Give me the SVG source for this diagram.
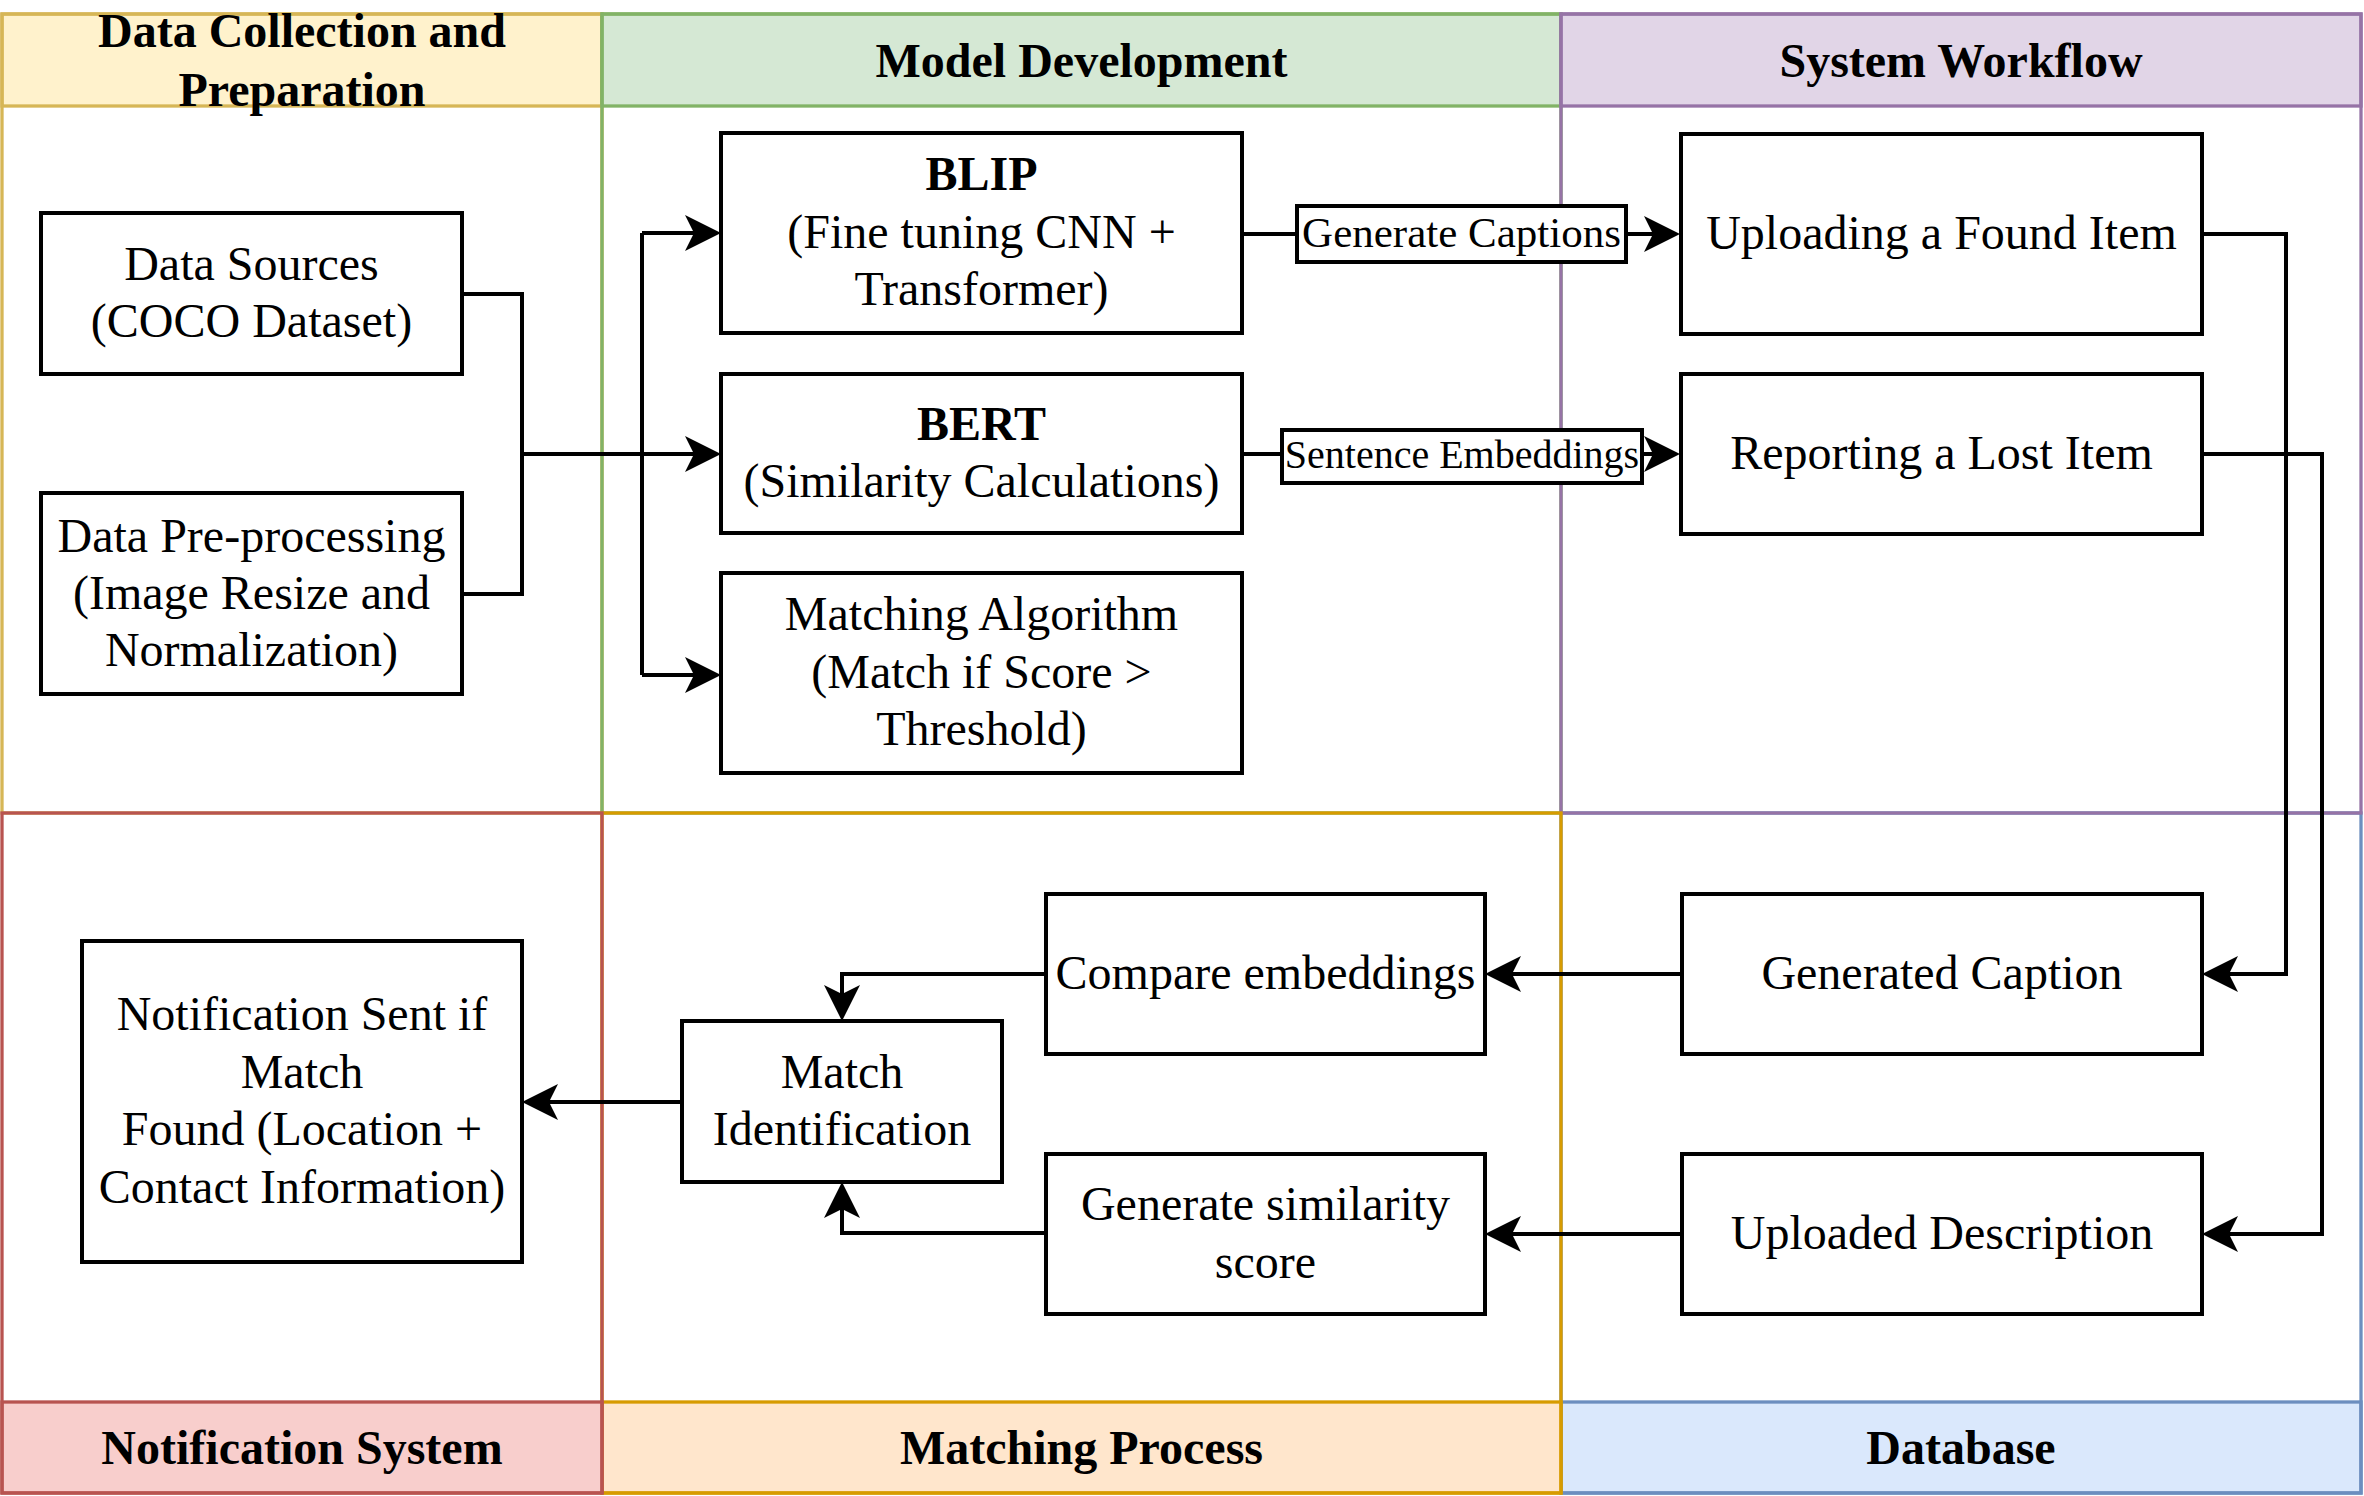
<svg xmlns="http://www.w3.org/2000/svg" width="2364" height="1496" viewBox="0 0 2364 1496">
<defs>
<style>
text{font-family:"Liberation Serif","Times New Roman",serif;fill:#000;text-anchor:middle}
.t{font-size:48px}
.h{font-size:48px;font-weight:bold}
.box{fill:#fff;stroke:#000;stroke-width:4}
.lane{fill:none;stroke-width:3.3}
.edge{fill:none;stroke:#000;stroke-width:4}
.arr{marker-end:url(#ah)}
.lbl{fill:#fff;stroke:#000;stroke-width:4}
</style>
<marker id="ah" markerUnits="userSpaceOnUse" markerWidth="40" markerHeight="40" refX="26" refY="18" orient="auto">
<path d="M0,0 L36,18 L0,36 L9,18 Z" fill="#000"/>
</marker>
</defs>
<rect x="0" y="0" width="2364" height="1496" fill="#fff"/>

<g id="lane-data-collection">
<rect x="2" y="14" width="600" height="92" fill="#fff2cc" stroke="#d6b656" stroke-width="3.3"/>
<rect class="lane" x="2" y="14" width="600" height="799" stroke="#d6b656"/>
<text class="h" x="302" y="47">Data Collection and</text>
<text class="h" x="302" y="106">Preparation</text>
</g>
<g id="lane-database">
<rect x="1561" y="1402" width="800" height="91" fill="#dae8fc" stroke="#6c8ebf" stroke-width="3.3"/>
<rect class="lane" x="1561" y="813" width="800" height="680" stroke="#6c8ebf"/>
<text class="h" x="1961" y="1464">Database</text>
</g>
<g id="lane-model-development">
<rect x="602" y="14" width="959" height="92" fill="#d5e8d4" stroke="#82b366" stroke-width="3.3"/>
<rect class="lane" x="602" y="14" width="959" height="799" stroke="#82b366"/>
<text class="h" x="1081.5" y="77">Model Development</text>
</g>
<g id="lane-system-workflow">
<rect x="1561" y="14" width="800" height="92" fill="#e1d5e7" stroke="#9673a6" stroke-width="3.3"/>
<rect class="lane" x="1561" y="14" width="800" height="799" stroke="#9673a6"/>
<text class="h" x="1961" y="77">System Workflow</text>
</g>
<g id="lane-matching-process">
<rect x="602" y="1402" width="959" height="91" fill="#ffe6cc" stroke="#d79b00" stroke-width="3.3"/>
<rect class="lane" x="602" y="813" width="959" height="680" stroke="#d79b00"/>
<text class="h" x="1081.5" y="1464">Matching Process</text>
</g>
<g id="lane-notification-system">
<rect x="2" y="1402" width="600" height="91" fill="#f8cecc" stroke="#b85450" stroke-width="3.3"/>
<rect class="lane" x="2" y="813" width="600" height="680" stroke="#b85450"/>
<text class="h" x="302" y="1464">Notification System</text>
</g>

<g id="connectors">
<path class="edge" d="M462,294 H522 V594 H462"/>
<path class="edge arr" d="M522,454 H711"/>
<path class="edge" d="M642,233 V675"/>
<path class="edge arr" d="M642,233 H711"/>
<path class="edge arr" d="M642,675 H711"/>
<path class="edge arr" d="M1242,234 H1670"/>
<path class="edge arr" d="M1242,454 H1670"/>
<path class="edge arr" d="M2202,234 H2286 V974 H2212"/>
<path class="edge arr" d="M2202,454 H2322 V1234 H2212"/>
<path class="edge arr" d="M1682,974 H1495"/>
<path class="edge arr" d="M1682,1234 H1495"/>
<path class="edge arr" d="M1046,974 H842 V1011"/>
<path class="edge arr" d="M1046,1233 H842 V1192"/>
<path class="edge arr" d="M682,1102 H532"/>
<g id="label-generate-captions">
<rect class="lbl" x="1297" y="206" width="329" height="56"/>
<text x="1461.5" y="247" font-size="43">Generate Captions</text>
</g>
<g id="label-sentence-embeddings">
<rect class="lbl" x="1282" y="430" width="360" height="53"/>
<text x="1462" y="468" font-size="40">Sentence Embeddings</text>
</g>
</g>

<g id="node-data-sources">
<rect class="box" x="41" y="213" width="421" height="161"/>
<text class="t" x="251.5" y="280">Data Sources</text>
<text class="t" x="251.5" y="337">(COCO Dataset)</text>
</g>
<g id="node-data-preprocessing">
<rect class="box" x="41" y="493" width="421" height="201"/>
<text class="t" x="251.5" y="552">Data Pre-processing</text>
<text class="t" x="251.5" y="609">(Image Resize and</text>
<text class="t" x="251.5" y="666">Normalization)</text>
</g>
<g id="node-blip">
<rect class="box" x="721" y="133" width="521" height="200"/>
<text class="h" x="981.5" y="190">BLIP</text>
<text class="t" x="981.5" y="248">(Fine tuning CNN +</text>
<text class="t" x="981.5" y="305">Transformer)</text>
</g>
<g id="node-bert">
<rect class="box" x="721" y="374" width="521" height="159"/>
<text class="h" x="981.5" y="440">BERT</text>
<text class="t" x="981.5" y="497">(Similarity Calculations)</text>
</g>
<g id="node-matching-algorithm">
<rect class="box" x="721" y="573" width="521" height="200"/>
<text class="t" x="981.5" y="630">Matching Algorithm</text>
<text class="t" x="981.5" y="688">(Match if Score &gt;</text>
<text class="t" x="981.5" y="745">Threshold)</text>
</g>
<g id="node-uploading-found">
<rect class="box" x="1681" y="134" width="521" height="200"/>
<text class="t" x="1941.5" y="249">Uploading a Found Item</text>
</g>
<g id="node-reporting-lost">
<rect class="box" x="1681" y="374" width="521" height="160"/>
<text class="t" x="1941.5" y="469">Reporting a Lost Item</text>
</g>
<g id="node-generated-caption">
<rect class="box" x="1682" y="894" width="520" height="160"/>
<text class="t" x="1942" y="989">Generated Caption</text>
</g>
<g id="node-uploaded-description">
<rect class="box" x="1682" y="1154" width="520" height="160"/>
<text class="t" x="1942" y="1249">Uploaded Description</text>
</g>
<g id="node-compare-embeddings">
<rect class="box" x="1046" y="894" width="439" height="160"/>
<text class="t" x="1265.5" y="989">Compare embeddings</text>
</g>
<g id="node-generate-similarity">
<rect class="box" x="1046" y="1154" width="439" height="160"/>
<text class="t" x="1265.5" y="1220">Generate similarity</text>
<text class="t" x="1265.5" y="1278">score</text>
</g>
<g id="node-match-identification">
<rect class="box" x="682" y="1021" width="320" height="161"/>
<text class="t" x="842" y="1088">Match</text>
<text class="t" x="842" y="1145">Identification</text>
</g>
<g id="node-notification">
<rect class="box" x="82" y="941" width="440" height="321"/>
<text class="t" x="302" y="1030">Notification Sent if</text>
<text class="t" x="302" y="1088">Match</text>
<text class="t" x="302" y="1145">Found (Location +</text>
<text class="t" x="302" y="1203">Contact Information)</text>
</g>
</svg>
